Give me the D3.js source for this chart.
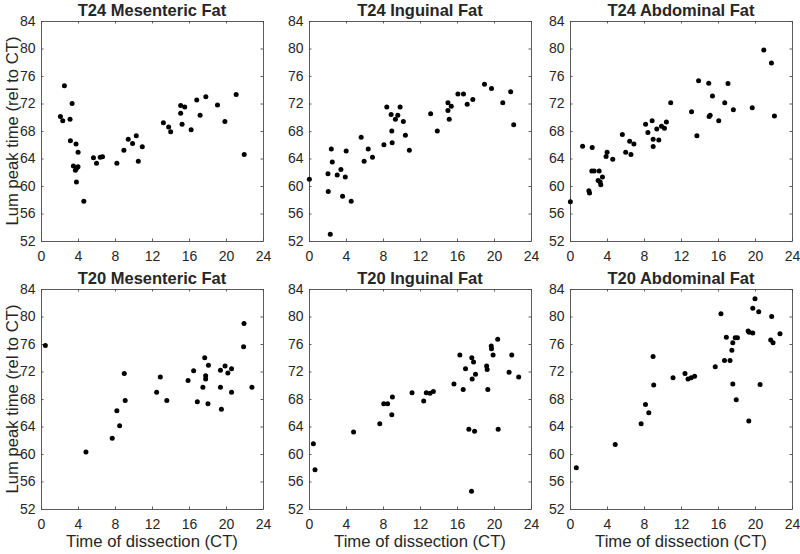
<!DOCTYPE html>
<html>
<head>
<meta charset="utf-8">
<script src="https://cdn.jsdelivr.net/npm/d3@7"></script>
<style>
  html, body { margin: 0; padding: 0; background: #fff; }
  svg { display: block; }
  text { font-family: "Liberation Sans", Arial, Helvetica, sans-serif; fill: #262626; }
</style>
</head>
<body>
<svg id="chart" width="800" height="554"></svg>
<script>
// ---- data ----
const xTicks = [0, 4, 8, 12, 16, 20, 24];
const yTicks = [52, 56, 60, 64, 68, 72, 76, 80, 84];
const xDomain = [0, 24];
const yDomain = [52, 84];
const panelTitles = [
  "T24 Mesenteric Fat", "T24 Inguinal Fat", "T24 Abdominal Fat",
  "T20 Mesenteric Fat", "T20 Inguinal Fat", "T20 Abdominal Fat"
];
const yAxisLabel = "Lum peak time (rel to CT)";
const xAxisLabel = "Time of dissection (CT)";

const t24Mesenteric = [
  [2.1, 70.1], [2.35, 69.5], [2.53, 74.6], [3.14, 69.7], [3.36, 72.0], [3.18, 66.6],
  [3.79, 66.1], [4.01, 64.9], [3.5, 62.9], [4.0, 62.8], [3.72, 62.3], [3.85, 62.6],
  [3.83, 60.6], [4.63, 57.8], [5.67, 64.1], [6.0, 63.3], [6.4, 64.2], [6.65, 64.25],
  [8.2, 63.3], [8.96, 65.2], [9.43, 66.8], [9.9, 66.2], [10.3, 67.3], [10.52, 63.6],
  [10.95, 65.7], [13.23, 69.2], [13.8, 68.6], [14.02, 67.9], [15.1, 70.6], [15.1, 71.7],
  [15.25, 69.0], [15.54, 71.5], [16.23, 68.2], [16.84, 72.5], [17.2, 70.3], [17.82, 73.0],
  [19.08, 71.8], [19.88, 69.4], [21.1, 73.3], [21.97, 64.6]
];
const t24Inguinal = [
  [0.04, 61.0], [2.05, 61.8], [2.08, 59.2], [2.3, 53.0], [2.41, 65.4], [2.52, 63.5],
  [3.05, 61.6], [3.45, 62.4], [3.63, 58.5], [3.92, 61.3], [4.02, 65.1], [4.56, 57.8],
  [5.64, 67.1], [5.96, 63.6], [6.4, 65.4], [6.86, 64.2], [8.1, 66.0], [8.41, 71.5],
  [8.88, 70.4], [8.95, 68.0], [8.99, 66.3], [9.34, 69.7], [9.6, 70.3], [9.85, 71.5],
  [10.2, 69.4], [10.42, 67.4], [10.85, 65.2], [13.15, 70.5], [13.87, 68.0], [15.02, 72.1],
  [15.02, 71.0], [15.16, 69.7], [15.38, 71.6], [16.1, 73.4], [16.7, 73.4], [17.1, 71.9],
  [17.71, 72.6], [18.97, 74.8], [19.73, 74.2], [20.95, 72.1], [21.8, 73.7], [22.13, 68.9]
];
const t24Abdominal = [
  [0.04, 57.7], [1.36, 65.8], [2.4, 65.6], [2.04, 59.3], [2.11, 59.0], [2.36, 62.2],
  [2.61, 62.2], [3.15, 62.2], [3.04, 60.8], [3.26, 60.6], [3.33, 60.2], [3.51, 61.3],
  [3.9, 64.3], [4.01, 64.9], [4.62, 63.9], [5.66, 67.5], [6.02, 64.9], [6.45, 66.5],
  [6.59, 64.6], [6.91, 66.1], [8.17, 69.0], [8.42, 67.8], [8.88, 69.5], [8.99, 66.8],
  [8.99, 65.75], [9.38, 68.3], [9.6, 66.7], [9.89, 68.7], [10.21, 68.4], [10.42, 69.3],
  [10.89, 72.1], [13.14, 70.8], [13.72, 67.3], [13.9, 75.3], [15.0, 74.95], [15.04, 70.1],
  [15.15, 70.3], [15.4, 73.1], [16.08, 69.5], [16.73, 72.1], [17.08, 74.9], [17.66, 71.1],
  [19.7, 71.4], [20.95, 79.8], [21.78, 77.9], [22.1, 70.2]
];
const t20Mesenteric = [
  [0.47, 75.8], [4.86, 60.3], [7.7, 62.3], [8.2, 66.3], [8.5, 64.1], [9.0, 71.7],
  [9.1, 67.8], [12.5, 69.0], [12.9, 71.2], [13.6, 67.8], [15.9, 70.7], [16.5, 72.1],
  [16.9, 67.6], [17.5, 69.7], [17.7, 74.0], [17.8, 71.4], [17.8, 70.9], [18.1, 72.9],
  [18.05, 67.3], [19.4, 72.2], [19.4, 69.7], [19.5, 66.5], [19.9, 72.8], [20.2, 71.8],
  [20.6, 72.4], [20.6, 69.0], [21.9, 75.6], [21.95, 79.0], [22.8, 69.7]
];
const t20Inguinal = [
  [0.47, 61.5], [0.65, 57.7], [4.82, 63.2], [7.65, 64.4], [8.08, 67.3], [8.5, 67.3],
  [8.95, 65.7], [9.02, 68.3], [11.14, 68.9], [12.4, 67.7], [12.68, 68.9], [13.08, 68.85],
  [13.44, 69.1], [15.67, 70.2], [16.31, 74.4], [16.67, 69.4], [16.92, 72.4], [17.28, 63.6],
  [17.57, 54.6], [17.6, 74.0], [17.64, 70.9], [17.79, 73.4], [17.9, 63.3], [18.0, 71.6],
  [19.2, 72.8], [19.26, 72.3], [19.33, 69.4], [19.7, 75.7], [19.73, 75.3], [19.9, 74.4],
  [20.4, 76.7], [20.45, 63.6], [21.63, 71.9], [21.92, 74.4], [22.67, 71.2]
];
const t20Abdominal = [
  [0.68, 58.0], [4.89, 61.4], [7.69, 64.4], [8.16, 67.2], [8.52, 66.0], [8.98, 74.2],
  [9.05, 70.05], [11.14, 71.1], [12.43, 71.7], [12.76, 70.9], [13.1, 71.1], [13.47, 71.3],
  [15.7, 72.7], [16.32, 80.4], [16.7, 73.6], [16.9, 77.0], [17.3, 73.6], [17.5, 75.1],
  [17.6, 76.2], [17.6, 70.2], [17.86, 76.9], [17.97, 67.9], [18.1, 76.9], [19.26, 77.9],
  [19.37, 77.7], [19.33, 64.8], [19.76, 77.6], [19.76, 81.2], [20.0, 82.6], [20.4, 80.7],
  [20.55, 70.1], [21.8, 80.0], [21.7, 76.6], [21.95, 76.2], [22.7, 77.5]
];
const panelData = [t24Mesenteric, t24Inguinal, t24Abdominal, t20Mesenteric, t20Inguinal, t20Abdominal];

// ---- layout ----
const colLeft = [41, 309, 570];
const rowTop = [21, 289];
const pw = 222, ph = 220;
const axisColor = "#4a4a4a";
const textColor = "#1a1a1a";

const svg = d3.select("#chart");

panelData.forEach((pts, i) => {
  const col = i % 3, row = Math.floor(i / 3);
  const g = svg.append("g").attr("transform", `translate(${colLeft[col]},${rowTop[row]})`);
  const x = d3.scaleLinear().domain(xDomain).range([0, pw]);
  const y = d3.scaleLinear().domain(yDomain).range([ph, 0]);

  const styleAxis = sel => {
    sel.selectAll("path.domain").attr("stroke", axisColor).attr("stroke-width", 0.9);
    sel.selectAll(".tick line").attr("stroke", axisColor).attr("stroke-width", 0.9);
    sel.selectAll(".tick text").attr("fill", textColor)
      .style("font-family", '"Liberation Sans", Arial, sans-serif').style("font-size", "14px");
  };

  g.append("g").attr("transform", `translate(0,${ph})`)
    .call(d3.axisBottom(x).tickValues(xTicks).tickSizeInner(-2.5).tickSizeOuter(0).tickPadding(10).tickFormat(d3.format("d")))
    .call(styleAxis);
  g.append("g")
    .call(d3.axisTop(x).tickValues(xTicks).tickSizeInner(-2.5).tickSizeOuter(0).tickFormat(""))
    .call(styleAxis);
  g.append("g")
    .call(d3.axisLeft(y).tickValues(yTicks).tickSizeInner(-2.5).tickSizeOuter(0).tickPadding(5.5).tickFormat(d3.format("d")))
    .call(styleAxis);
  g.append("g").attr("transform", `translate(${pw},0)`)
    .call(d3.axisRight(y).tickValues(yTicks).tickSizeInner(-2.5).tickSizeOuter(0).tickFormat(""))
    .call(styleAxis);

  g.append("g").selectAll("circle").data(pts).join("circle")
    .attr("cx", d => x(d[0])).attr("cy", d => y(d[1])).attr("r", 2.5).attr("fill", "#000");

  g.append("text")
    .attr("x", pw / 2).attr("y", -5.5)
    .attr("text-anchor", "middle")
    .style("font-size", "16.5px").style("font-weight", "bold").attr("fill", "#000")
    .text(panelTitles[i]);

  if (col === 0) {
    g.append("text")
      .attr("transform", `translate(-23,${ph / 2}) rotate(-90)`)
      .attr("text-anchor", "middle")
      .style("font-size", "16.7px").attr("fill", textColor)
      .text(yAxisLabel);
  }
  if (row === 1) {
    g.append("text")
      .attr("x", pw / 2).attr("y", ph + 38)
      .attr("text-anchor", "middle")
      .style("font-size", "16.7px").attr("fill", textColor)
      .text(xAxisLabel);
  }
});
</script>
</body>
</html>
